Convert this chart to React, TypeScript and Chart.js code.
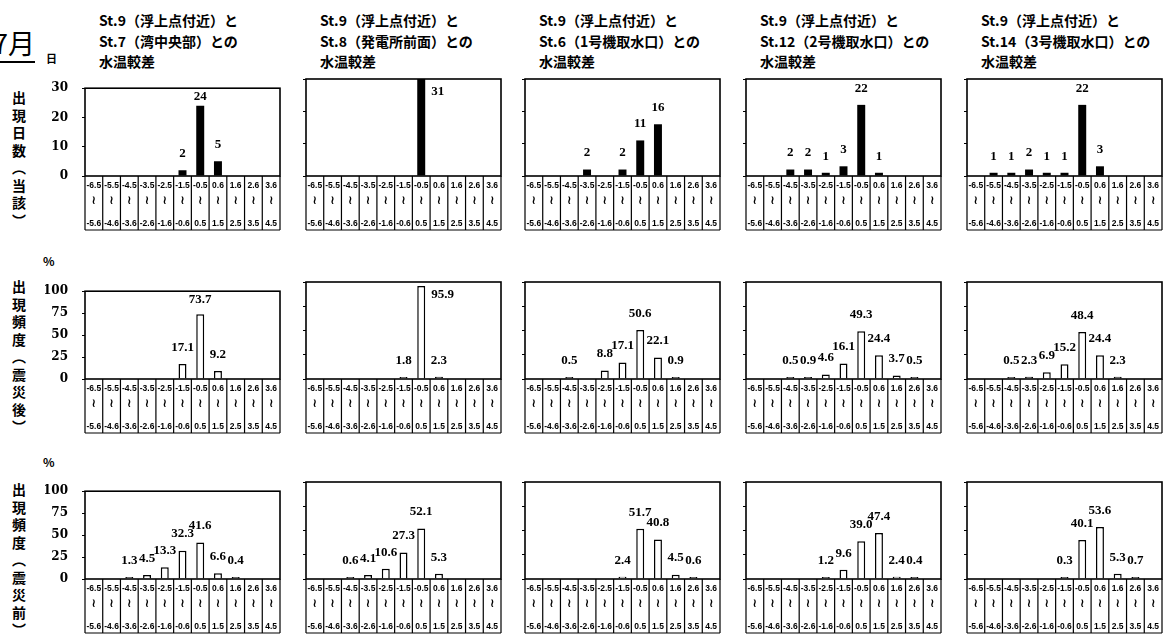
import React, { useEffect, useRef } from 'react';
import { Chart, registerables } from 'chart.js';

Chart.register(...registerables);

// ---------------- data ----------------
const binFrom = ['-6.5', '-5.5', '-4.5', '-3.5', '-2.5', '-1.5', '-0.5', '0.6', '1.6', '2.6', '3.6'];
const binTo = ['-5.6', '-4.6', '-3.6', '-2.6', '-1.6', '-0.6', '0.5', '1.5', '2.5', '3.5', '4.5'];
const binSep = '≀';

const titleLine1 = 'St.9（浮上点付近）と';
const titleLine2 = [
  'St.7（湾中央部）との',
  'St.8（発電所前面）との',
  'St.6（1号機取水口）との',
  'St.12（2号機取水口）との',
  'St.14（3号機取水口）との',
];
const titleLine3 = '水温較差';

const rowTitles = ['出現日数（当該）', '出現頻度（震災後）', '出現頻度（震災前）'];
const rowUnits = ['日', '%', '%'];
const yMax = [30, 100, 100];
const yStep = [10, 25, 25];

// 出現日数（当該）
const daysSt7 = [0, 0, 0, 0, 0, 2, 24, 5, 0, 0, 0];
const daysSt8 = [0, 0, 0, 0, 0, 0, 31, 0, 0, 0, 0];
const daysSt6 = [0, 0, 0, 2, 0, 2, 11, 16, 0, 0, 0];
const daysSt12 = [0, 0, 2, 2, 1, 3, 22, 1, 0, 0, 0];
const daysSt14 = [0, 1, 1, 2, 1, 1, 22, 3, 0, 0, 0];

// 出現頻度（震災後） %
const afterSt7 = [0, 0, 0, 0, 0, 17.1, 73.7, 9.2, 0, 0, 0];
const afterSt8 = [0, 0, 0, 0, 0, 1.8, 95.9, 2.3, 0, 0, 0];
const afterSt6 = [0, 0, 0.5, 0, 8.8, 17.1, 50.6, 22.1, 0.9, 0, 0];
const afterSt12 = [0, 0, 0.5, 0.9, 4.6, 16.1, 49.3, 24.4, 3.7, 0.5, 0];
const afterSt14 = [0, 0, 0.5, 2.3, 6.9, 15.2, 48.4, 24.4, 2.3, 0, 0];

// 出現頻度（震災前） %
const beforeSt7 = [0, 0, 1.3, 4.5, 13.3, 32.3, 41.6, 6.6, 0.4, 0, 0];
const beforeSt8 = [0, 0, 0.6, 4.1, 10.6, 27.3, 52.1, 5.3, 0, 0, 0];
const beforeSt6 = [0, 0, 0, 0, 0, 2.4, 51.7, 40.8, 4.5, 0.6, 0];
const beforeSt12 = [0, 0, 0, 0, 1.2, 9.6, 39.0, 47.4, 2.4, 0.4, 0];
const beforeSt14 = [0, 0, 0, 0, 0, 0.3, 40.1, 53.6, 5.3, 0.7, 0];

const rowsData = [
  [daysSt7, daysSt8, daysSt6, daysSt12, daysSt14],
  [afterSt7, afterSt8, afterSt6, afterSt12, afterSt14],
  [beforeSt7, beforeSt8, beforeSt6, beforeSt12, beforeSt14],
];

// ---------------- layout ----------------
const PLOT_LEFT = [85, 306, 525, 746, 967];
const PLOT_TOP = [79, 282, 482];
const PLOT_W = 195;
const PLOT_H = 97;
const TABLE_H = 54;
const PAD_T = 12;
const PAD_R = 2;
const PAD_B = 2;
const Y_AXIS_W = 40;

const JP = '"Noto Sans CJK JP", "Noto Sans", sans-serif';

const decorPlugin = {
  id: 'panelDecor',
  afterDraw(chart: any) {
    const { ctx, chartArea: a, scales } = chart;
    const x = scales.x;
    const n = x.ticks.length;
    const bottom = a.bottom + TABLE_H;
    ctx.save();
    ctx.strokeStyle = '#000';
    ctx.lineWidth = 1.6;
    ctx.strokeRect(a.left, a.top, a.right - a.left, a.bottom - a.top);
    ctx.lineWidth = 1.2;
    ctx.beginPath();
    for (let i = 0; i <= n; i++) {
      const px =
        i === 0 ? a.left : i === n ? a.right : (x.getPixelForTick(i - 1) + x.getPixelForTick(i)) / 2;
      ctx.moveTo(px, a.bottom);
      ctx.lineTo(px, bottom);
    }
    ctx.moveTo(a.left, bottom);
    ctx.lineTo(a.right, bottom);
    ctx.stroke();
    // range separator in the middle row of the table
    ctx.fillStyle = '#000';
    ctx.font = 'bold 12px "DejaVu Sans", sans-serif';
    ctx.textAlign = 'center';
    ctx.textBaseline = 'middle';
    for (let i = 0; i < n; i++) {
      ctx.fillText(binSep, x.getPixelForTick(i), a.bottom + 25);
    }
    ctx.restore();
  },
};

const valueLabelPlugin = {
  id: 'valueLabels',
  afterDatasetsDraw(chart: any, _args: any, opts: any) {
    const { ctx, chartArea: a } = chart;
    const data = chart.data.datasets[0].data;
    const meta = chart.getDatasetMeta(0);
    ctx.save();
    ctx.fillStyle = '#000';
    ctx.font = 'bold 13px "Liberation Serif", serif';
    meta.data.forEach((el: any, i: number) => {
      const v = data[i];
      if (v == null) return;
      const { x, y, width } = el.getProps(['x', 'y', 'width'], true);
      const text = Number(v).toFixed(opts.decimals);
      if (y < a.top + 16) {
        ctx.textAlign = 'left';
        ctx.textBaseline = 'top';
        ctx.fillText(text, x + width / 2 + 6, a.top + 6);
      } else {
        ctx.textAlign = 'center';
        ctx.textBaseline = 'bottom';
        ctx.fillText(text, x, Math.max(y - 10, a.top + 15));
      }
    });
    ctx.restore();
  },
};

function Panel({ row, col }: { row: number; col: number }) {
  const ref = useRef<HTMLCanvasElement>(null);
  const yW = col === 0 ? Y_AXIS_W : 4;

  useEffect(() => {
    const values = rowsData[row][col];
    const chart = new Chart(ref.current as HTMLCanvasElement, {
      type: 'bar',
      data: {
        labels: binFrom.map((f, i) => [f, '', binTo[i]]),
        datasets: [
          {
            data: values.map((v) => (v === 0 ? null : v)),
            backgroundColor: row === 0 ? '#000' : '#fff',
            borderColor: '#000',
            borderWidth: row === 0 ? 0 : 1.5,
            borderSkipped: 'bottom',
            barPercentage: 0.45,
            categoryPercentage: 1,
            minBarLength: row === 0 ? 0 : 2,
          },
        ],
      },
      options: {
        animation: false,
        responsive: true,
        maintainAspectRatio: false,
        layout: { padding: { top: PAD_T, right: PAD_R, bottom: PAD_B, left: 0 } },
        plugins: {
          legend: { display: false },
          tooltip: { enabled: false },
          // @ts-ignore
          valueLabels: { decimals: row === 0 ? 0 : 1 },
        },
        scales: {
          x: {
            type: 'category',
            offset: true,
            grid: { display: false },
            border: { display: false },
            ticks: {
              autoSkip: false,
              maxRotation: 0,
              minRotation: 0,
              padding: -8,
              color: '#000',
              font: {
                family: '"Liberation Sans", "DejaVu Sans", sans-serif',
                size: 8.5,
                weight: 'bold',
                lineHeight: '19px',
              },
            },
            afterFit: (s: any) => {
              s.height = TABLE_H;
            },
          },
          y: {
            min: 0,
            max: yMax[row],
            grid: { display: true, drawOnChartArea: false, drawTicks: true, tickLength: 3, color: '#000', lineWidth: 1 },
            border: { display: false },
            ticks: {
              display: col === 0,
              stepSize: yStep[row],
              padding: 14,
              color: '#000',
              font: { family: '"DejaVu Serif", serif', size: 12, weight: 'bold' },
            },
            afterFit: (s: any) => {
              s.width = yW;
            },
          },
        },
      } as any,
      plugins: [decorPlugin, valueLabelPlugin],
    });
    return () => chart.destroy();
  }, [row, col, yW]);

  return (
    <div
      style={{
        position: 'absolute',
        left: PLOT_LEFT[col] - yW,
        top: PLOT_TOP[row] - PAD_T,
        width: yW + PLOT_W + PAD_R,
        height: PAD_T + PLOT_H + TABLE_H + PAD_B,
      }}
    >
      <canvas ref={ref} />
    </div>
  );
}

const ROW_TITLE_TOP = [91, 280, 483];
const UNIT_POS = [
  { left: 46, top: 51, size: 11 },
  { left: 43, top: 254, size: 12 },
  { left: 43, top: 455, size: 12 },
];

export default function App() {
  return (
    <div
      style={{
        position: 'absolute',
        left: 0,
        top: 0,
        width: 1170,
        height: 640,
        background: '#fff',
        overflow: 'hidden',
        color: '#000',
        fontFamily: JP,
      }}
    >
      {/* month label */}
      <div
        style={{
          position: 'absolute',
          left: -7,
          top: 28,
          fontSize: 27,
          lineHeight: '30px',
          whiteSpace: 'nowrap',
          fontFamily: JP,
        }}
      >
        7月
      </div>
      <div style={{ position: 'absolute', left: 0, top: 61, width: 35, height: 2, background: '#000' }} />

      {/* column titles */}
      {titleLine2.map((t, c) => (
        <div
          key={'t' + c}
          style={{
            position: 'absolute',
            left: PLOT_LEFT[c] + 14,
            top: 10,
            fontSize: 14,
            fontWeight: 700,
            lineHeight: '20.5px',
            whiteSpace: 'nowrap',
          }}
        >
          <div>{titleLine1}</div>
          <div>{t}</div>
          <div>{titleLine3}</div>
        </div>
      ))}

      {/* row titles */}
      {rowTitles.map((t, r) => (
        <div
          key={'r' + r}
          style={{
            position: 'absolute',
            left: 12,
            top: ROW_TITLE_TOP[r],
            writingMode: 'vertical-rl',
            fontSize: 14,
            fontWeight: 700,
            lineHeight: '14px',
            letterSpacing: '3.5px',
            whiteSpace: 'nowrap',
          }}
        >
          {t}
        </div>
      ))}

      {/* units */}
      {rowUnits.map((u, r) => (
        <div
          key={'u' + r}
          style={{
            position: 'absolute',
            left: UNIT_POS[r].left,
            top: UNIT_POS[r].top,
            fontSize: UNIT_POS[r].size,
            fontWeight: 700,
            lineHeight: '14px',
          }}
        >
          {u}
        </div>
      ))}

      {rowsData.map((row, r) =>
        row.map((_, c) => <Panel key={r + '-' + c} row={r} col={c} />)
      )}
    </div>
  );
}
